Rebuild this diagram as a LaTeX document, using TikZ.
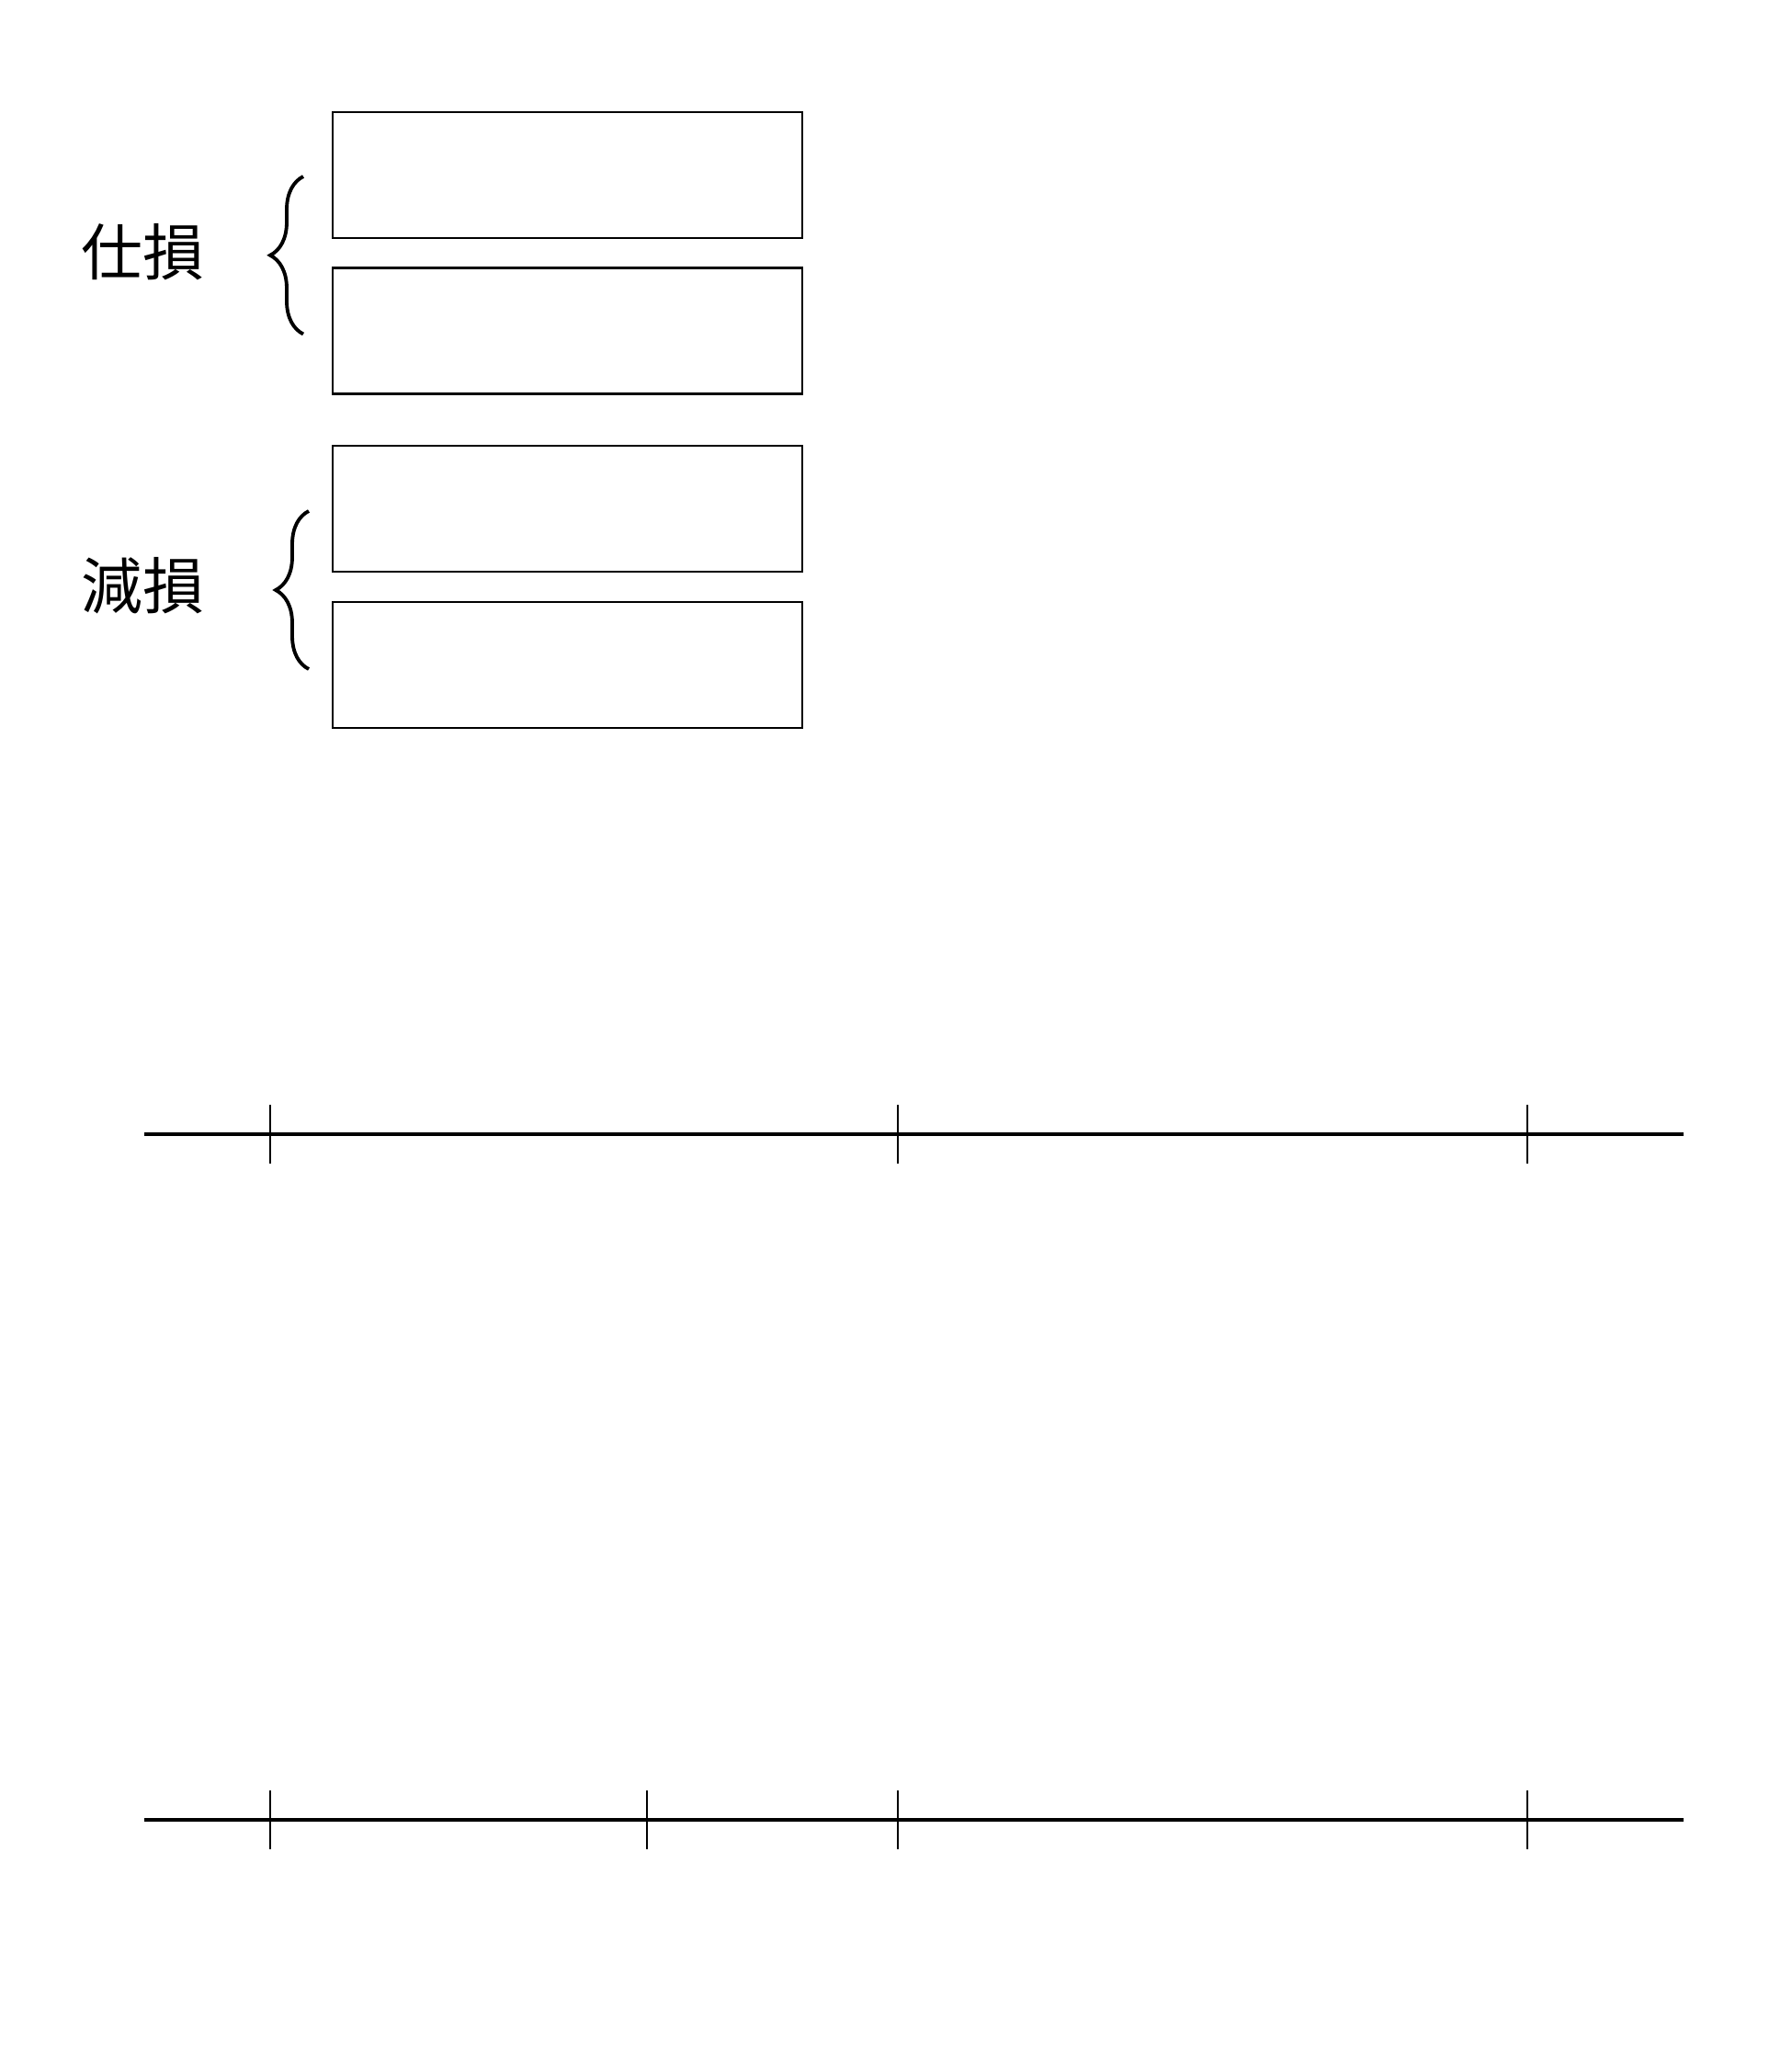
\documentclass[tikz,border=0pt]{standalone}
\usepackage{fontspec}
\newfontfamily\jpfont{Noto Sans CJK JP}
\usetikzlibrary{positioning,decorations.pathreplacing}

\begin{document}
\begin{tikzpicture}[font=\jpfont]
    \tikzset{
      blank/.style = {rectangle, minimum width=5.11cm, minimum height=1.37cm, draw=black, line width=0.6pt, inner sep=0pt, outer sep=0pt},
      label/.style = {font=\jpfont\fontsize{19}{19}\selectfont, inner sep=0pt},
      curly/.style = {decorate, decoration={brace, amplitude=0.36cm}, line width=1.1pt},
      axis/.style = {line width=0.9pt},
      tick/.style = {line width=0.6pt}
    }
    \useasboundingbox (0,0) rectangle (19.49,-22.5);

    % input boxes
    \node (loss_a) [blank] at (6.175,-1.905) {};
    \node (loss_b) [blank] at (6.175,-3.600) {};
    \node (waste_a) [blank] at (6.175,-5.535) {};
    \node (waste_b) [blank] at (6.175,-7.235) {};

    \node (loss) [label] at (1.55,-2.74) {仕損};
    \node (waste) [label] at (1.55,-6.37) {減損};

    \coordinate (loss_lo) at (3.30,-3.635);
    \coordinate (loss_hi) at (3.30,-1.92);
    \coordinate (waste_lo) at (3.36,-7.28);
    \coordinate (waste_hi) at (3.36,-5.56);
    \draw [curly] (loss_lo) -- (loss_hi);
    \draw [curly] (waste_lo) -- (waste_hi);

    % first time line
    \coordinate (top_start) at (1.57,-12.34);
    \coordinate (top_end) at (18.32,-12.34);
    \draw [axis] (top_start) -- (top_end);
    \foreach \x in {2.94,9.77,16.62}
      \draw [tick] (\x,-12.02) -- (\x,-12.66);

    % second time line
    \coordinate (low_start) at (1.57,-19.80);
    \coordinate (low_end) at (18.32,-19.80);
    \draw [axis] (low_start) -- (low_end);
    \foreach \x in {2.94,7.04,9.77,16.62}
      \draw [tick] (\x,-19.48) -- (\x,-20.12);
\end{tikzpicture}
\end{document}
